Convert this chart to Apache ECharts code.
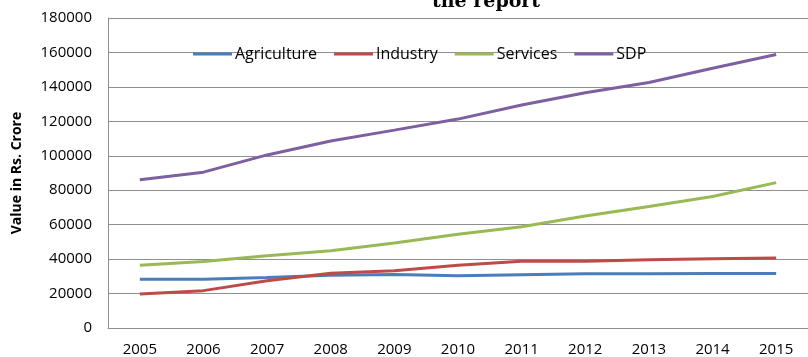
<!DOCTYPE html>
<html>
<head>
<meta charset="utf-8">
<title>Sector-wise value</title>
<script src="https://cdn.jsdelivr.net/npm/echarts@6/dist/echarts.min.js"></script>
<style>
  html, body { margin: 0; padding: 0; background: #fff; }
  #chart { width: 808px; height: 357px; }
</style>
</head>
<body>
<div id="chart"></div>
<script>
// Years on the horizontal axis
const years = ['2005', '2006', '2007', '2008', '2009', '2010', '2011', '2012', '2013', '2014', '2015'];

// Sector values, Rs. Crore
const agriculture = [28300, 28300, 29300, 30700, 31000, 30300, 30900, 31500, 31500, 31700, 31700];
const industry    = [19800, 21700, 27400, 31800, 33200, 36500, 38800, 38800, 39600, 40200, 40600];
const services    = [36500, 38600, 41900, 44900, 49300, 54400, 58800, 65000, 70500, 76400, 84400];
const sdp         = [86100, 90500, 100500, 108600, 114900, 121300, 129500, 136600, 142500, 150800, 158800];

// Value axis range
const yMin = 0;
const yMax = 180000;
const yStep = 20000;

const seriesDefs = [
  { name: 'Agriculture', data: agriculture, color: '#4a7ebb' },
  { name: 'Industry',    data: industry,    color: '#be4b48' },
  { name: 'Services',    data: services,    color: '#98b954' },
  { name: 'SDP',         data: sdp,         color: '#7d60a0' }
];

const gridColor = '#8f8f8f';
const labelFont = 'Open Sans';

const chart = echarts.init(document.getElementById('chart'), null, { renderer: 'canvas' });

chart.setOption({
  animation: false,
  backgroundColor: '#ffffff',
  graphic: [{
    type: 'text',
    left: 432,
    top: -7,
    style: {
      text: 'the report',
      font: 'bold 19px "DejaVu Serif"',
      fill: '#000'
    }
  }],
  legend: {
    left: 188,
    top: 41,
    itemWidth: 39,
    itemHeight: 3,
    itemGap: 17,
    icon: 'rect',
    textStyle: { fontFamily: labelFont, fontSize: 16, color: '#000', padding: [0, 0, 0, -2] },
    data: seriesDefs.map(s => s.name)
  },
  grid: {
    left: 108,
    top: 18,
    width: 710,
    height: 311,
    containLabel: false
  },
  xAxis: {
    type: 'category',
    data: years,
    boundaryGap: true,
    axisLine: { show: true, lineStyle: { color: gridColor, width: 1 } },
    axisTick: { show: false },
    axisLabel: { fontFamily: labelFont, fontSize: 15, color: '#000', margin: 14 },
    splitLine: { show: false }
  },
  yAxis: {
    type: 'value',
    min: yMin,
    max: yMax,
    interval: yStep,
    name: 'Value in Rs. Crore',
    nameLocation: 'middle',
    nameGap: 84,
    nameTextStyle: { fontFamily: labelFont, fontSize: 14, fontWeight: 'bold', color: '#000' },
    axisLine: { show: true, lineStyle: { color: gridColor, width: 1 } },
    axisTick: { show: false },
    axisLabel: {
      fontFamily: labelFont, fontSize: 15, color: '#000', margin: 16,
      formatter: v => String(v)
    },
    splitLine: { show: true, lineStyle: { color: gridColor, width: 1 } }
  },
  series: seriesDefs.map(s => ({
    name: s.name,
    type: 'line',
    data: s.data,
    symbol: 'none',
    smooth: false,
    itemStyle: { color: s.color },
    lineStyle: { color: s.color, width: 3 }
  }))
});
</script>
</body>
</html>
